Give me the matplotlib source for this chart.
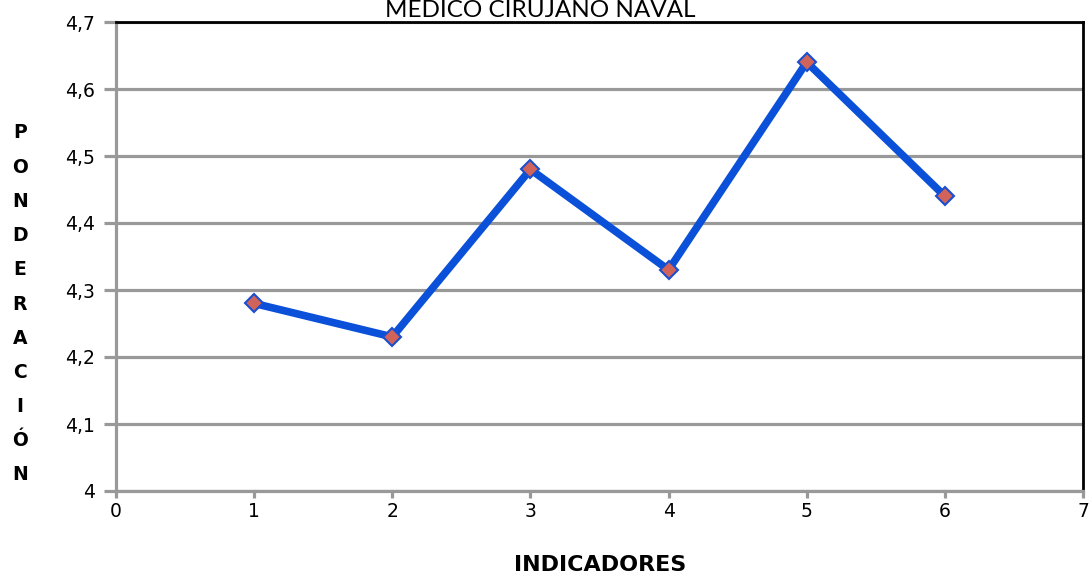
import matplotlib
matplotlib.use("Agg")
import matplotlib.pyplot as plt

# data
indicadores = [1, 2, 3, 4, 5, 6]
ponderacion = [4.28, 4.23, 4.48, 4.33, 4.64, 4.44]
ytick_vals = [4.0, 4.1, 4.2, 4.3, 4.4, 4.5, 4.6, 4.7]
ytick_labels = ["4", "4,1", "4,2", "4,3", "4,4", "4,5", "4,6", "4,7"]
xtick_vals = [0, 1, 2, 3, 4, 5, 6, 7]
ylabel_letters = list("PONDERACIÓN")

plt.rcParams["font.family"] = ["DejaVu Sans"]

fig = plt.figure(figsize=(10.91, 5.76), dpi=100)
ax = fig.add_axes([116 / 1091, 85 / 576, (1083 - 116) / 1091, (491 - 22) / 576])

grey = "#999999"
ax.set_xlim(0, 7)
ax.set_ylim(4.0, 4.7)
ax.set_yticks(ytick_vals)
ax.set_yticklabels(ytick_labels)
ax.set_xticks(xtick_vals)
ax.grid(axis="y", color=grey, linewidth=2.3)
ax.set_axisbelow(True)

ax.plot(indicadores, ponderacion, color="#0a50d8", linewidth=5.5,
        marker="D", markersize=9.5, markerfacecolor="#d0645a",
        markeredgecolor="#1a4fd0", markeredgewidth=1.5, zorder=3)

for side in ("left", "bottom"):
    ax.spines[side].set_color(grey)
    ax.spines[side].set_linewidth(2.3)
for side in ("top", "right"):
    ax.spines[side].set_color("black")
    ax.spines[side].set_linewidth(2.0)

ax.tick_params(axis="both", colors=grey, width=2.3, length=7,
               labelcolor="black", labelsize=13.5)
ax.tick_params(axis="x", length=5, pad=3)
ax.tick_params(axis="y", length=9, pad=6)

fig.text(540 / 1091, 1 - 17 / 576, "MEDICO CIRUJANO NAVAL", ha="center",
         va="baseline", fontsize=17.5, family=["Lato", "DejaVu Sans"])
fig.text(600 / 1091, 1 - 565 / 576, "INDICADORES", ha="center",
         va="center", fontsize=16, fontweight="bold")

n = len(ylabel_letters)
for i, ch in enumerate(ylabel_letters):
    ypix = 133 + i * (475 - 133) / (n - 1)
    fig.text(20 / 1091, 1 - ypix / 576, ch, ha="center", va="center",
             fontsize=13.5, fontweight="bold")

fig.savefig("out.png", dpi=100)
